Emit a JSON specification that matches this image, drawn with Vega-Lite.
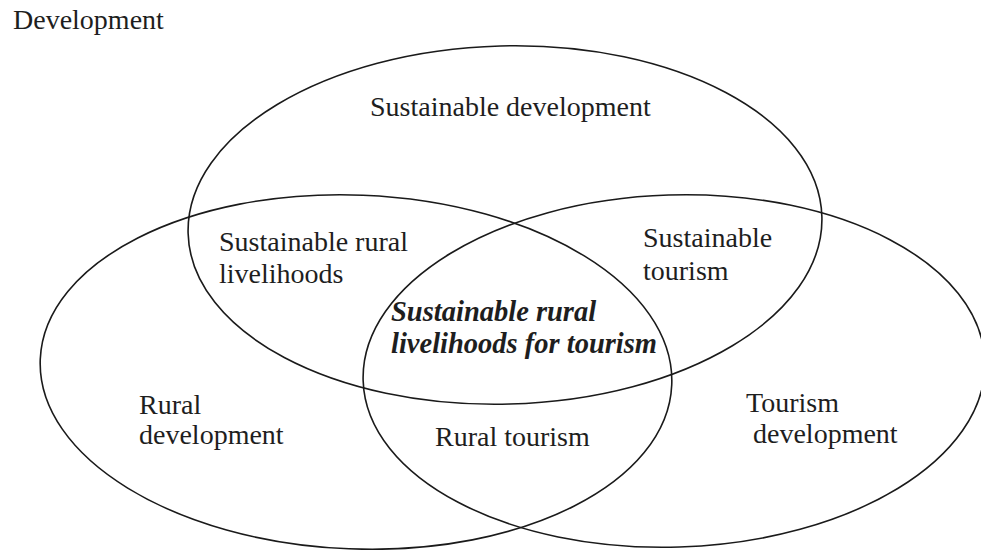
{
  "$schema": "https://vega.github.io/schema/vega-lite/v6.json",
  "width": 981,
  "height": 550,
  "autosize": "none",
  "padding": 0,
  "background": "white",
  "config": {"view": {"stroke": null}},
  "datasets": {
    "top": [{"set": "Sustainable development", "cx": 505, "cy": 225}],
    "left": [{"set": "Rural development", "cx": 356, "cy": 372}],
    "right": [{"set": "Tourism development", "cx": 674, "cy": 371}],
    "labels": [
      {"text": "Development", "x": 13, "y": 29},
      {"text": "Sustainable development", "x": 370, "y": 116},
      {"text": "Sustainable rural", "x": 219, "y": 251},
      {"text": "livelihoods", "x": 219, "y": 283},
      {"text": "Sustainable", "x": 643, "y": 247},
      {"text": "tourism", "x": 643, "y": 280},
      {"text": "Rural", "x": 139, "y": 414},
      {"text": "development", "x": 139, "y": 444},
      {"text": "Rural tourism", "x": 435, "y": 446},
      {"text": "Tourism", "x": 746, "y": 412},
      {"text": "development", "x": 753, "y": 443}
    ],
    "core": [
      {"text": "Sustainable rural", "x": 391, "y": 321},
      {"text": "livelihoods for tourism", "x": 391, "y": 353}
    ]
  },
  "encoding": {
    "x": {"field": "cx", "type": "quantitative", "scale": {"domain": [0, 981], "nice": false, "zero": false}, "axis": null},
    "y": {"field": "cy", "type": "quantitative", "scale": {"domain": [0, 550], "nice": false, "zero": false, "reverse": true}, "axis": null}
  },
  "layer": [
    {
      "data": {"name": "top"},
      "mark": {"type": "point", "shape": "M -1 0 A 1 0.565 0 1 0 1 0 A 1 0.565 0 1 0 -1 0 Z", "size": 401956, "angle": -1.5, "filled": false, "stroke": "#1a1a1a", "strokeWidth": 1.6, "opacity": 1}
    },
    {
      "data": {"name": "left"},
      "mark": {"type": "point", "shape": "M -1 0 A 1 0.56 0 1 0 1 0 A 1 0.56 0 1 0 -1 0 Z", "size": 399424, "angle": 2.3, "filled": false, "stroke": "#1a1a1a", "strokeWidth": 1.6, "opacity": 1}
    },
    {
      "data": {"name": "right"},
      "mark": {"type": "point", "shape": "M -1 0 A 1 0.566 0 1 0 1 0 A 1 0.566 0 1 0 -1 0 Z", "size": 386884, "angle": -1.8, "filled": false, "stroke": "#1a1a1a", "strokeWidth": 1.6, "opacity": 1}
    },
    {
      "data": {"name": "labels"},
      "mark": {"type": "text", "align": "left", "baseline": "alphabetic", "font": "Liberation Serif", "fontSize": 28, "color": "#1e1e1e"},
      "encoding": {
        "x": {"field": "x", "type": "quantitative"},
        "y": {"field": "y", "type": "quantitative"},
        "text": {"field": "text"}
      }
    },
    {
      "data": {"name": "core"},
      "mark": {"type": "text", "align": "left", "baseline": "alphabetic", "font": "Liberation Serif", "fontSize": 28.5, "fontStyle": "italic", "fontWeight": "bold", "color": "#1e1e1e"},
      "encoding": {
        "x": {"field": "x", "type": "quantitative"},
        "y": {"field": "y", "type": "quantitative"},
        "text": {"field": "text"}
      }
    }
  ]
}
